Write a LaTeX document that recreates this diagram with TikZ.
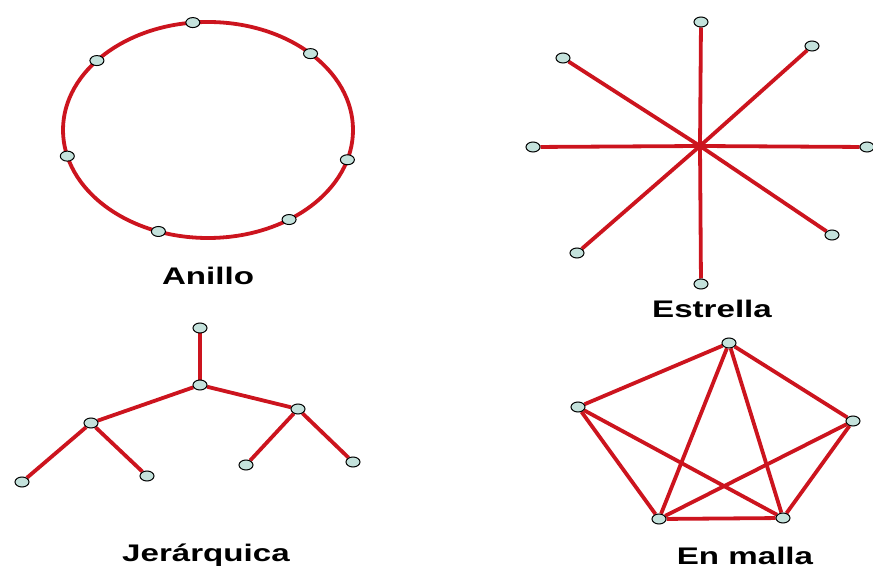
\documentclass[tikz,border=0pt]{standalone}
\usepackage{fontspec}
\setmainfont{Liberation Sans}
\newfontfamily\capfont[FakeStretch=1.38]{Liberation Sans}
\usetikzlibrary{shapes.geometric,calc,backgrounds}
\definecolor{linkred}{RGB}{204,20,30}
\definecolor{hostfill}{RGB}{196,226,220}

\begin{document}
\begin{tikzpicture}[
    x=1pt, y=-1pt,
    host/.style={draw=black, fill=hostfill, ellipse, minimum width=14pt, minimum height=10pt, inner sep=0pt, line width=1pt},
    link/.style={draw=linkred, line width=3.8pt},
    caption/.style={font=\capfont\fontsize{24}{24}\selectfont\bfseries, inner sep=0pt, anchor=base},
]
    \useasboundingbox (0,0) rectangle (873,569);

    % Ring
    \coordinate (ringc) at (208,130);
    \foreach \a [count=\i] in {96,140,45,194,344,250,304}
        \node[host] (r\i) at ($(ringc)+(\a:145 and -108)$) {};
    \begin{scope}[on background layer]
        \draw[link] (ringc) ellipse [x radius=145pt, y radius=108pt];
    \end{scope}
    \node[caption] (ringlbl) at (208,285) {Anillo};

    % Star
    \coordinate (hub) at (700,146);
    \node[host] (s1) at (701,22) {};
    \node[host] (s2) at (563,58) {};
    \node[host] (s3) at (812,46) {};
    \node[host] (s4) at (533,147) {};
    \node[host] (s5) at (867,147) {};
    \node[host] (s6) at (577,253) {};
    \node[host] (s7) at (832,235) {};
    \node[host] (s8) at (701,284) {};
    \begin{scope}[on background layer]
        \foreach \i in {1,...,8}
            \draw[link] (hub) -- (s\i);
    \end{scope}
    \node[caption] (starlbl) at (712,318) {Estrella};

    % Tree
    \node[host] (t0) at (200,328) {};
    \node[host] (t1) at (200,385) {};
    \node[host] (t2) at (91,423) {};
    \node[host] (t3) at (298,409) {};
    \node[host] (t4) at (22,482) {};
    \node[host] (t5) at (147,476) {};
    \node[host] (t6) at (246,465) {};
    \node[host] (t7) at (353,462) {};
    \begin{scope}[on background layer]
        \draw[link] (t0) -- (t1);
        \draw[link] (t1) -- (t2);
        \draw[link] (t1) -- (t3);
        \draw[link] (t2) -- (t4);
        \draw[link] (t2) -- (t5);
        \draw[link] (t3) -- (t6);
        \draw[link] (t3) -- (t7);
    \end{scope}
    \node[caption] (treelbl) at (206,561) {Jerárquica};

    % Mesh
    \node[host] (m1) at (729,343) {};
    \node[host] (m2) at (578,407) {};
    \node[host] (m3) at (853,421) {};
    \node[host] (m4) at (659,519) {};
    \node[host] (m5) at (783,518) {};
    \begin{scope}[on background layer]
        \foreach \u/\v in {1/2,1/3,1/4,1/5,2/4,2/5,3/4,3/5,4/5}
            \draw[link] (m\u) -- (m\v);
    \end{scope}
    \node[caption] (meshlbl) at (745,564) {En malla};
\end{tikzpicture}
\end{document}
